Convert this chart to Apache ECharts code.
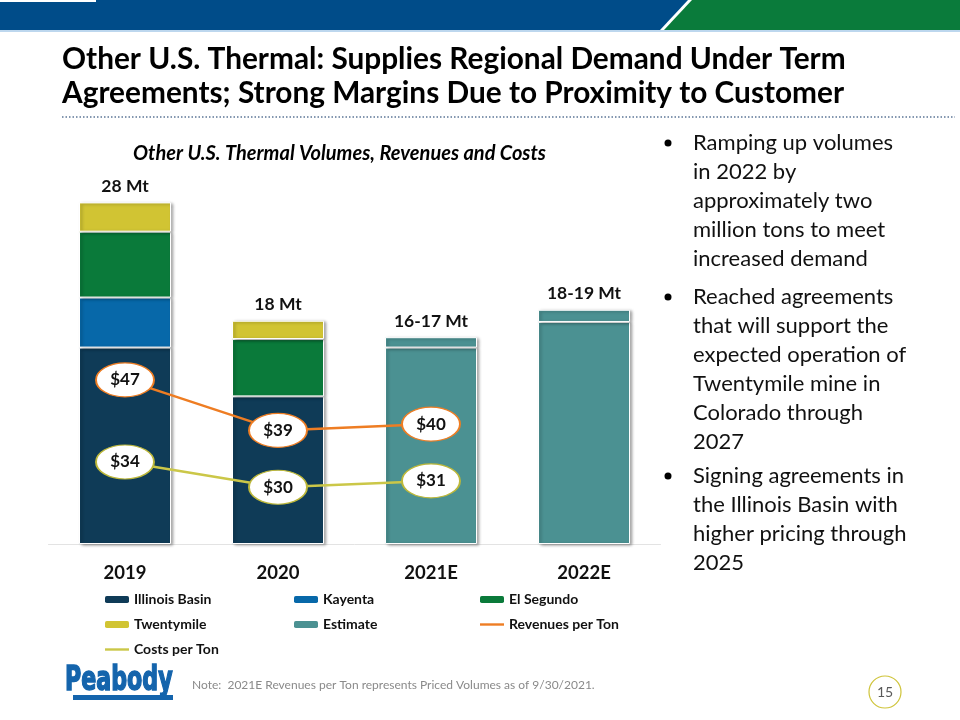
<!DOCTYPE html>
<html>
<head>
<meta charset="utf-8">
<script src="https://cdn.jsdelivr.net/npm/echarts@6/dist/echarts.min.js"></script>
<style>
  html, body { margin: 0; padding: 0; background: #fff; }
  #main { width: 960px; height: 720px; }
</style>
</head>
<body>
<div id="main"></div>
<script>
// volumes in Mt, per-ton values in $
var categories = ['2019', '2020', '2021E', '2022E'];
var illinoisBasin = [16.1, 12.1, null, null];
var kayenta = [4.1, null, null, null];
var elSegundo = [5.4, 4.7, null, null];
var twentymile = [2.4, 1.5, null, null];
var estimate = [null, null, 16.1, 18.2];
var estimateTop = [null, null, 0.85, 1.0];
var volumeLabels = ['28 Mt', '18 Mt', '16-17 Mt', '18-19 Mt'];
var revenuesPerTon = [47, 39, 40, null];
var costsPerTon = [34, 30, 31, null];

var FONT = 'Lato, "Open Sans", sans-serif';

var barStyle = function (color) {
  return {
    color: color,
    borderColor: '#fff',
    borderWidth: 1,
    shadowColor: 'rgba(0,0,0,0.35)',
    shadowBlur: 3,
    shadowOffsetX: 2,
    shadowOffsetY: 1
  };
};

var topLabel = {
  show: true,
  position: 'top',
  distance: 7,
  color: '#111',
  fontFamily: FONT,
  fontWeight: 'bold',
  fontSize: 17.5,
  formatter: function (p) {
    return p.value ? volumeLabels[p.dataIndex] : '';
  }
};

var bubbleLabel = {
  show: true,
  position: 'inside',
  color: '#111',
  fontFamily: FONT,
  fontWeight: 'bold',
  fontSize: 17,
  formatter: function (p) { return '$' + p.value; }
};

var legendBase = {
  orient: 'vertical',
  top: 592,
  padding: 0,
  itemWidth: 24,
  itemHeight: 7,
  itemGap: 10,
  textStyle: { fontFamily: FONT, fontWeight: 'bold', fontSize: 14, color: '#111', lineHeight: 15 },
  itemStyle: { borderWidth: 0, shadowBlur: 0, shadowOffsetX: 0, shadowOffsetY: 0 }
};
var lineIcon = 'path://M0,0h40v4h-40z';

var bullets = [
  { y: 143, text: 'Ramping up volumes\nin 2022 by\napproximately two\nmillion tons to meet\nincreased demand' },
  { y: 297, text: 'Reached agreements\nthat will support the\nexpected operation of\nTwentymile mine in\nColorado through\n2027' },
  { y: 476, text: 'Signing agreements in\nthe Illinois Basin with\nhigher pricing through\n2025' }
];

var graphics = [
  // header band
  { type: 'rect', shape: { x: 0, y: 30, width: 960, height: 2 }, style: { fill: '#BDD7EE' } },
  { type: 'polygon', shape: { points: [[0, 0], [688, 0], [660, 30], [0, 30]] }, style: { fill: '#004C89' } },
  { type: 'polygon', shape: { points: [[692, 0], [960, 0], [960, 30], [664, 30]] }, style: { fill: '#0A7B3B' } },
  { type: 'rect', shape: { x: 0, y: 0, width: 96, height: 2 }, style: { fill: '#fff' } },
  // title
  {
    type: 'text', left: 62, top: 42,
    style: {
      text: 'Other U.S. Thermal: Supplies Regional Demand Under Term\nAgreements; Strong Margins Due to Proximity to Customer',
      font: 'bold 29.8px ' + FONT, lineHeight: 34, fill: '#000'
    }
  },
  {
    type: 'line', shape: { x1: 62, y1: 117, x2: 955, y2: 117 },
    style: { stroke: '#8497B0', lineWidth: 2, lineDash: [1.5, 2] }
  },
  // chart title
  {
    type: 'text', left: 133, top: 144,
    style: { text: 'Other U.S. Thermal Volumes, Revenues and Costs', font: 'italic bold 20px ' + FONT, fill: '#000' }
  },
  // footer
  {
    type: 'text', left: 192, top: 679,
    style: { text: 'Note:  2021E Revenues per Ton represents Priced Volumes as of 9/30/2021.', font: '12px ' + FONT, fill: '#8a8a8a' }
  },
  { type: 'circle', shape: { cx: 885, cy: 692, r: 16 }, style: { fill: 'none', stroke: '#CFC43A', lineWidth: 1.2 } },
  { type: 'text', x: 885, y: 692, style: { text: '15', font: '14px ' + FONT, fill: '#595959', align: 'center', verticalAlign: 'middle' } },
  {
    type: 'text', x: 65, y: 664, scaleX: 0.88, scaleY: 1.22,
    style: { text: 'Peabody', font: 'bold 28px "DejaVu Sans Condensed", sans-serif', fill: '#1464AC', stroke: '#1464AC', lineWidth: 1.2 }
  },
  { type: 'rect', shape: { x: 73, y: 695, width: 100, height: 5 }, style: { fill: '#1464AC' } }
];

bullets.forEach(function (b) {
  graphics.push({ type: 'circle', shape: { cx: 668, cy: b.y, r: 3.5 }, style: { fill: '#000' } });
  graphics.push({
    type: 'text', left: 693, top: b.y - 14.5,
    style: { text: b.text, font: '22px ' + FONT, lineHeight: 29, fill: '#111' }
  });
});

var option = {
  animation: false,
  backgroundColor: '#fff',
  graphic: graphics,
  grid: { left: 48.5, right: 299.5, top: 178, bottom: 176 },
  legend: [
    Object.assign({}, legendBase, {
      left: 105,
      data: ['Illinois Basin', 'Twentymile',
        { name: 'Costs per Ton', icon: lineIcon, itemStyle: { color: '#CBC748' } }]
    }),
    Object.assign({}, legendBase, { left: 294, data: ['Kayenta', 'Estimate'] }),
    Object.assign({}, legendBase, {
      left: 480,
      data: ['El Segundo',
        { name: 'Revenues per Ton', icon: lineIcon, itemStyle: { color: '#EE7D23' } }]
    })
  ],
  xAxis: {
    type: 'category',
    data: categories,
    axisTick: { show: false },
    axisLine: { lineStyle: { color: '#E3E3E3', width: 1 } },
    axisLabel: { margin: 20, color: '#111', fontFamily: FONT, fontWeight: 'bold', fontSize: 18.5 }
  },
  yAxis: [
    { type: 'value', min: 0, max: 30, show: false, splitLine: { show: false } },
    { type: 'value', min: 21, max: 79, show: false, splitLine: { show: false } }
  ],
  series: [
    { name: 'Illinois Basin', type: 'bar', stack: 'vol', barWidth: 92, data: illinoisBasin, itemStyle: barStyle('#0F3B57') },
    { name: 'Kayenta', type: 'bar', stack: 'vol', data: kayenta, itemStyle: barStyle('#0768A9') },
    { name: 'El Segundo', type: 'bar', stack: 'vol', data: elSegundo, itemStyle: barStyle('#0A7A3A') },
    { name: 'Twentymile', type: 'bar', stack: 'vol', data: twentymile, itemStyle: barStyle('#D1C433'), label: topLabel },
    { name: 'Estimate', type: 'bar', stack: 'vol', data: estimate, itemStyle: barStyle('#4B9192') },
    { name: 'Estimate', type: 'bar', stack: 'vol', data: estimateTop, itemStyle: barStyle('#4B9192'), label: topLabel },
    {
      name: 'Revenues per Ton', type: 'line', yAxisIndex: 1, data: revenuesPerTon,
      symbol: 'circle', symbolSize: [58, 34],
      lineStyle: { color: '#EE7D23', width: 2.5 },
      itemStyle: { color: '#fff', borderColor: '#EE7D23', borderWidth: 1.5 },
      label: bubbleLabel, z: 5
    },
    {
      name: 'Costs per Ton', type: 'line', yAxisIndex: 1, data: costsPerTon,
      symbol: 'circle', symbolSize: [58, 34],
      lineStyle: { color: '#CBC748', width: 2.5 },
      itemStyle: { color: '#fff', borderColor: '#BDB83A', borderWidth: 1.5 },
      label: bubbleLabel, z: 5
    }
  ]
};

var myChart = echarts.init(document.getElementById('main'));
myChart.setOption(option);
</script>
</body>
</html>
